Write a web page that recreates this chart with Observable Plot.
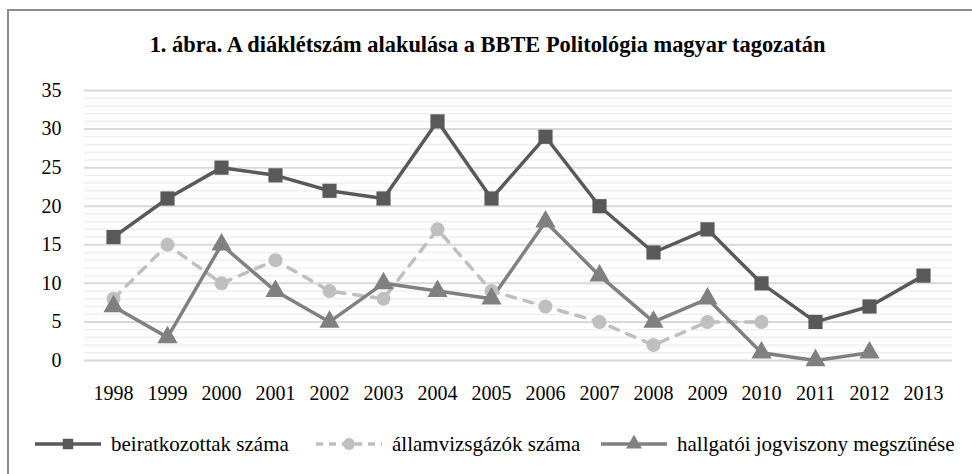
<!DOCTYPE html>
<html>
<head>
<meta charset="utf-8">
<script src="https://cdn.jsdelivr.net/npm/d3@7"></script>
<script src="https://cdn.jsdelivr.net/npm/@observablehq/plot@0.6"></script>
<style>
  html, body { margin: 0; padding: 0; background: #fff; overflow: hidden; }
  body { width: 972px; height: 474px; position: relative; font-family: "Liberation Serif", "Times New Roman", serif; }
  #frame { position: absolute; left: 7px; top: 9px; width: 990px; height: 500px; border: 2px solid #8c8c8c; box-sizing: border-box; }
  #title { position: absolute; left: 0; width: 975px; top: 32px; text-align: center; font-weight: bold; font-size: 22.4px; color: #000; white-space: nowrap; }
  #chart { position: absolute; left: 0; top: 70px; }
  #chart svg, #chart svg text { font-family: "Liberation Serif", "Times New Roman", serif !important; }
  #legend { position: absolute; left: 0; top: 432px; width: 972px; height: 24px; font-size: 21px; color: #000; }
  .item { position: absolute; top: 0; display: flex; align-items: center; height: 24px; white-space: nowrap; }
  .item svg { margin-right: 10px; }
</style>
</head>
<body>
<div id="frame"></div>
<div id="title">1. ábra. A diáklétszám alakulása a BBTE Politológia magyar tagozatán</div>
<div id="chart"></div>
<div id="legend"></div>
<script>
const years = ["1998","1999","2000","2001","2002","2003","2004","2005","2006","2007","2008","2009","2010","2011","2012","2013"];
const seriesNames = ["beiratkozottak száma", "államvizsgázók száma", "hallgatói jogviszony megszűnése"];
const enrolled  = [16, 21, 25, 24, 22, 21, 31, 21, 29, 20, 14, 17, 10, 5, 7, 11];
const graduates = [8, 15, 10, 13, 9, 8, 17, 9, 7, 5, 2, 5, 5, null, null, null];
const dropouts  = [7, 3, 15, 9, 5, 10, 9, 8, 18, 11, 5, 8, 1, 0, 1, null];
const yTicks = [0, 5, 10, 15, 20, 25, 30, 35];

const colors = ["#595959", "#bfbfbf", "#808080"];

function rows(vals) {
  return years.map((y, i) => ({year: y, value: vals[i]})).filter(d => d.value != null);
}
const dEnr = rows(enrolled), dGrad = rows(graduates), dDrop = rows(dropouts);
const minorTicks = d3.range(0, 36).filter(v => v % 5 !== 0);

const plot = Plot.plot({
  width: 972,
  height: 350,
  marginLeft: 84,
  marginRight: 20,
  marginTop: 20,
  marginBottom: 60,
  style: { fontFamily: "'Liberation Serif', serif", fontSize: "20px", color: "#000", background: "transparent" },
  x: { type: "point", domain: years, padding: 0.5, label: null },
  y: { domain: [0, 35], label: null },
  marks: [
    Plot.ruleY(minorTicks, { stroke: "#efefef", strokeWidth: 1.5 }),
    Plot.ruleY(yTicks, { stroke: "#d9d9d9", strokeWidth: 2 }),
    Plot.axisY({ ticks: yTicks, tickSize: 0, tickPadding: 23, label: null, fontSize: 20 }),
    Plot.axisX({ tickSize: 0, tickPadding: 25, label: null, fontSize: 20 }),
    Plot.line(dEnr, { x: "year", y: "value", stroke: colors[0], strokeWidth: 3.5 }),
    Plot.line(dGrad, { x: "year", y: "value", stroke: colors[1], strokeWidth: 3.5, strokeDasharray: "9,9", strokeLinecap: "round" }),
    Plot.line(dDrop, { x: "year", y: "value", stroke: colors[2], strokeWidth: 3.5 }),
    Plot.dot(dGrad, { x: "year", y: "value", symbol: "circle", r: 7, fill: colors[1], stroke: "none" }),
    Plot.dot(dDrop, { x: "year", y: "value", symbol: "triangle", r: 7.5, fill: colors[2], stroke: "none" }),
    Plot.dot(dEnr, { x: "year", y: "value", symbol: "square", r: 8, fill: colors[0], stroke: "none" })
  ]
});
document.getElementById("chart").appendChild(plot);

// legend
const legendX = [35, 316, 601];
const legend = d3.select("#legend");
seriesNames.forEach((name, i) => {
  const item = legend.append("div").attr("class", "item").style("left", legendX[i] + "px");
  const svg = item.append("svg").attr("width", 66).attr("height", 24);
  svg.append("line").attr("x1", 0).attr("x2", 66).attr("y1", 12).attr("y2", 12)
    .attr("stroke", colors[i]).attr("stroke-width", 3.5)
    .attr("stroke-dasharray", i === 1 ? "7,6" : null);
  svg.append("path").attr("transform", "translate(33,12)")
    .attr("d", d3.symbol(i === 0 ? d3.symbolSquare : i === 1 ? d3.symbolCircle : d3.symbolTriangle, 110)())
    .attr("fill", colors[i]);
  item.append("span").text(name);
});
</script>
</body>
</html>
